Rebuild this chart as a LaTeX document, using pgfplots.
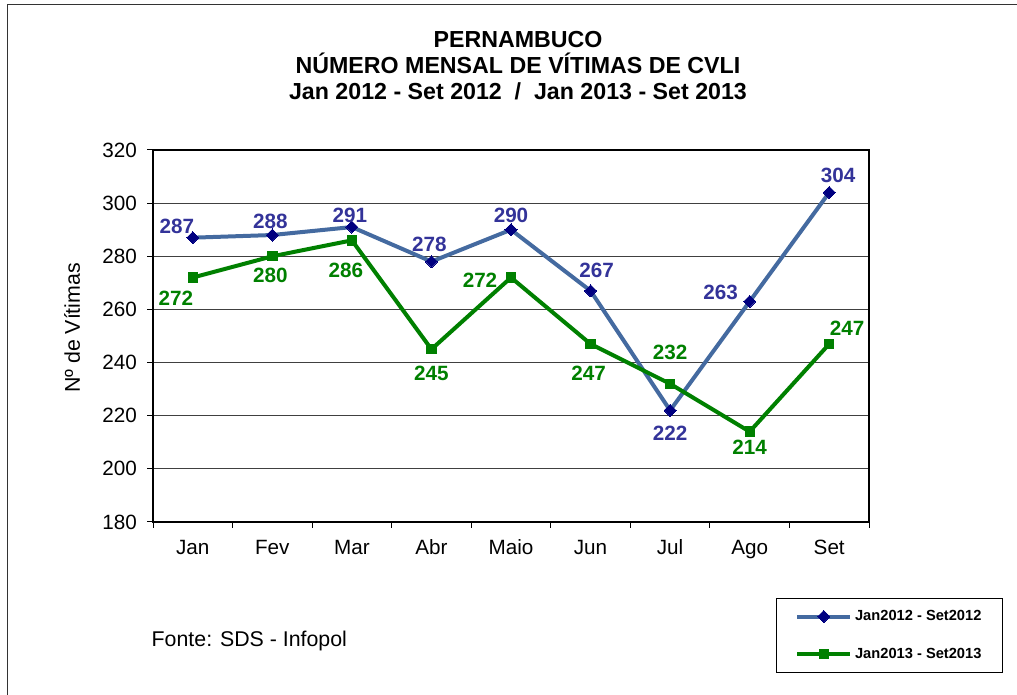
\documentclass[border=0pt]{standalone}
\usepackage{fontspec}
\setmainfont{Liberation Sans}
\usepackage{pgfplots}
\pgfplotsset{compat=1.18}

\definecolor{azulLinha}{RGB}{68,106,160}
\definecolor{azulMarca}{RGB}{0,0,128}
\definecolor{azulTexto}{RGB}{51,51,153}
\definecolor{verde}{RGB}{0,128,0}

% rotulo de um ponto: cor, x, y, deslocamento x, deslocamento y
\newcommand{\rotulo}[5]{%
  \addplot[draw=none, forget plot, nodes near coords, point meta=y,
    nodes near coords style={text=#1, anchor=center, xshift=#4pt, yshift=#5pt,
      font=\bfseries\fontsize{15.5}{18}\selectfont}]
    coordinates {(#2,#3)};}

\begin{document}
\begin{tikzpicture}[x=0.75pt,y=0.75pt]
\useasboundingbox (0,0) rectangle (1017,695);
\draw[black!80, line width=0.75pt] (7,0) -- (7,690) -- (1017,690);

\node[font=\bfseries\fontsize{17.4}{19.5}\selectfont, align=center] at (518,629)
  {PERNAMBUCO\\NÚMERO MENSAL DE VÍTIMAS DE CVLI\\Jan 2012 - Set 2012~~/~~Jan 2013 - Set 2013};
\node[font=\fontsize{16}{19}\selectfont, anchor=west] at (147,54) {Fonte: SDS - Infopol};
\node[font=\fontsize{16}{19}\selectfont, rotate=90] at (72,367) {Nº de Vítimas};

\begin{axis}[
  at={(114.75pt,129.75pt)}, anchor=south west,
  scale only axis, width=537pt, height=279pt,
  /pgf/number format/assume math mode=true,
  xmin=-0.5, xmax=8.5, ymin=180, ymax=320,
  xtick={0,...,8},
  xticklabels={Jan,Fev,Mar,Abr,Maio,Jun,Jul,Ago,Set},
  minor xtick={-0.5,0.5,...,8.5},
  ytick={180,200,...,320},
  tick pos=left, tick align=outside,
  major tick length=4.5pt, minor tick length=4.5pt,
  every major x tick/.append style={draw=none},
  every tick/.append style={black, line width=0.75pt},
  axis line style={black, line width=0.9pt},
  ymajorgrids, grid style={black!75, line width=0.75pt},
  ticklabel style={font=\fontsize{15.5}{18}\selectfont},
  yticklabel style={xshift=-4pt},
  xticklabel style={anchor=north, text height=11.5pt, text depth=3.5pt, yshift=-4.5pt},
  legend style={at={(rel axis cs:0.870,-0.204)}, anchor=north west,
    draw=black, line width=0.75pt,
    font=\bfseries\fontsize{11}{13}\selectfont,
    inner xsep=14pt, inner ysep=7pt, row sep=15pt,
    /tikz/every even column/.append style={column sep=0pt}},
  legend cell align=left,
  legend image code/.code={\draw[#1, mark repeat=2, mark phase=2]
    plot coordinates {(0pt,0pt) (20pt,0pt) (40pt,0pt)};},
]
\addplot[azulLinha, line width=3pt, mark=square*, mark size=3.2pt,
  mark options={solid, fill=azulMarca, draw=azulMarca, rotate=45, line width=0pt}]
  coordinates {(0,287) (1,288) (2,291) (3,278) (4,290) (5,267) (6,222) (7,263) (8,304)};
\addlegendentry{Jan2012 - Set2012}
\addplot[verde, line width=3pt, mark=square*, mark size=3.5pt,
  mark options={solid, fill=verde, draw=verde, line width=0pt}]
  coordinates {(0,272) (1,280) (2,286) (3,245) (4,272) (5,247) (6,232) (7,214) (8,247)};
\addlegendentry{Jan2013 - Set2013}

\rotulo{azulTexto}{0}{287}{-12}{8.25}
\rotulo{azulTexto}{1}{288}{-1.5}{10.5}
\rotulo{azulTexto}{2}{291}{-1.5}{9}
\rotulo{azulTexto}{3}{278}{-1.5}{12.75}
\rotulo{azulTexto}{4}{290}{0}{10.5}
\rotulo{azulTexto}{5}{267}{4.5}{15}
\rotulo{azulTexto}{6}{222}{0}{-17.25}
\rotulo{azulTexto}{7}{263}{-21.75}{6.75}
\rotulo{azulTexto}{8}{304}{6.75}{12.75}

\rotulo{verde}{0}{272}{-12.75}{-15.75}
\rotulo{verde}{1}{280}{-1.5}{-14.25}
\rotulo{verde}{2}{286}{-4.5}{-22.5}
\rotulo{verde}{3}{245}{0}{-18}
\rotulo{verde}{4}{272}{-23.25}{-2.25}
\rotulo{verde}{5}{247}{-1.5}{-21.75}
\rotulo{verde}{6}{232}{0}{23.25}
\rotulo{verde}{7}{214}{0}{-12}
\rotulo{verde}{8}{247}{13.5}{12}
\end{axis}
\end{tikzpicture}
\end{document}
